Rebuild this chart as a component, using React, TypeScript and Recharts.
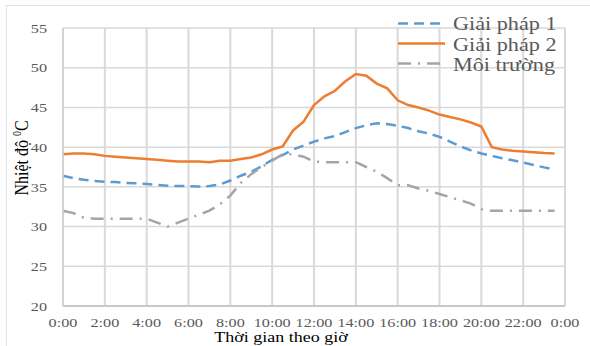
import React from "react";
import { LineChart, Line, XAxis, YAxis, CartesianGrid, Legend, Label } from "recharts";

const hours = [
  0, 0.5, 1, 1.5, 2, 2.5, 3, 3.5, 4, 4.5, 5, 5.5, 6, 6.5, 7, 7.5, 8, 8.5, 9, 9.5, 10, 10.5, 11, 11.5,
  12, 12.5, 13, 13.5, 14, 14.5, 15, 15.5, 16, 16.5, 17, 17.5, 18, 18.5, 19, 19.5, 20, 20.5, 21, 21.5,
  22, 22.5, 23, 23.5,
];

const giaiPhap1 = [
  36.4, 36.1, 35.9, 35.75, 35.65, 35.6, 35.5, 35.45, 35.35, 35.25, 35.15, 35.1, 35.1, 35.05, 35.1, 35.3,
  35.8, 36.4, 36.9, 37.6, 38.4, 39.0, 39.7, 40.2, 40.7, 41.1, 41.4, 41.9, 42.4, 42.75, 43.0, 42.9,
  42.7, 42.4, 42.0, 41.7, 41.3, 40.7, 40.1, 39.6, 39.2, 38.9, 38.6, 38.35, 38.05, 37.75, 37.45, 37.2,
];

const giaiPhap2 = [
  39.1, 39.2, 39.2, 39.1, 38.9, 38.8, 38.7, 38.6, 38.5, 38.4, 38.3, 38.2, 38.2, 38.2, 38.1, 38.3,
  38.3, 38.5, 38.7, 39.1, 39.7, 40.1, 42.1, 43.2, 45.3, 46.4, 47.1, 48.3, 49.2, 49.0, 48.0, 47.4,
  45.9, 45.3, 45.0, 44.6, 44.1, 43.8, 43.5, 43.1, 42.6, 40.0, 39.7, 39.55, 39.45, 39.35, 39.25, 39.2,
];

const moiTruong = [
  32.0, 31.7, 31.1, 31.0, 31.0, 31.0, 31.0, 31.0, 31.0, 30.5, 30.0, 30.5, 31.0, 31.5, 32.0, 32.8,
  33.9, 35.5, 36.6, 37.5, 38.3, 39.1, 39.1, 38.8, 38.2, 38.1, 38.1, 38.1, 38.1, 37.5, 36.9, 36.1,
  35.2, 35.2, 34.8, 34.5, 34.1, 33.7, 33.3, 32.9, 32.2, 32.0, 32.0, 32.0, 32.0, 32.0, 32.0, 32.0,
];

const xTicks = [0, 2, 4, 6, 8, 10, 12, 14, 16, 18, 20, 22, 24];
const yTicks = [20, 25, 30, 35, 40, 45, 50, 55];

const seriesNames = ["Giải pháp 1", "Giải pháp 2", "Môi trường"];
const xTitle = "Thời gian theo giờ";
const yTitleMain = "Nhiệt độ ";
const yTitleSup = "0";
const yTitleUnit = "C";

const data = hours.map((h, i) => ({
  h,
  g1: giaiPhap1[i],
  g2: giaiPhap2[i],
  env: moiTruong[i],
}));

const FONT = "'Liberation Serif', 'Times New Roman', serif";
const SX = 1.2;

const seriesStyles = [
  { key: "g1", name: seriesNames[0], color: "#5B9BD5", dash: "10 6", width: 2.5 },
  { key: "g2", name: seriesNames[1], color: "#ED7D31", dash: undefined as string | undefined, width: 2.5 },
  { key: "env", name: seriesNames[2], color: "#A5A5A5", dash: "13 7 2 7", width: 2.5 },
];

const fmtHour = (h: number) => `${h % 24}:00`;

const XTick = (props: any) => {
  const { x, payload } = props;
  return (
    <g transform={`translate(${x},327) scale(${SX},1)`}>
      <text textAnchor="middle" fontFamily={FONT} fontSize={13.5} fill="#595959">
        {fmtHour(payload.value)}
      </text>
    </g>
  );
};

const YTick = (props: any) => {
  const { y, payload } = props;
  return (
    <g transform={`translate(47,${y}) scale(${SX},1)`}>
      <text textAnchor="end" dy="0.35em" fontFamily={FONT} fontSize={13.5} fill="#595959">
        {payload.value}
      </text>
    </g>
  );
};

const XTitle = () => (
  <g transform={`translate(281,342) scale(${SX},1)`}>
    <text textAnchor="middle" fontFamily={FONT} fontSize={15} fill="#000000">
      {xTitle}
    </text>
  </g>
);

const YTitle = () => (
  <g transform={`translate(28,158) rotate(-90) scale(1,${SX})`}>
    <text textAnchor="middle" fontFamily={FONT} fontSize={16} fill="#000000">
      {yTitleMain}
      <tspan dy={-6} fontSize={10}>
        {yTitleSup}
      </tspan>
      <tspan dy={6}>{yTitleUnit}</tspan>
    </text>
  </g>
);

const LegendContent = () => (
  <svg width={190} height={72} style={{ display: "block" }}>
    {seriesStyles.map((s, i) => (
      <g key={s.key}>
        <line
          x1={0}
          x2={47}
          y1={13.5 + i * 20}
          y2={13.5 + i * 20}
          stroke={s.color}
          strokeWidth={2.5}
          strokeDasharray={s.dash}
        />
        <g transform={`translate(55,${20 + i * 20.5}) scale(${SX},1)`}>
          <text fontFamily={FONT} fontSize={18.5} fill="#595959">
            {s.name}
          </text>
        </g>
      </g>
    ))}
  </svg>
);

export default function App() {
  return (
    <div style={{ position: "absolute", left: 0, top: 0, width: 590, height: 346, background: "#ffffff", overflow: "hidden" }}>
      <div
        style={{
          position: "absolute",
          left: 6,
          top: 5,
          width: 600,
          height: 360,
          borderLeft: "1.5px solid #E3E3E3",
          borderTop: "1.5px solid #E3E3E3",
        }}
      />
      <div style={{ position: "absolute", left: 0, top: 0 }}>
        <LineChart width={590} height={346} data={data} margin={{ top: 28, right: 25, bottom: 0, left: 13 }}>
          <CartesianGrid horizontal={false} vertical={true} stroke="#D9D9D9" strokeWidth={2} />
          <CartesianGrid horizontal={true} vertical={false} stroke="#D9D9D9" strokeWidth={1.5} />
          <XAxis
            dataKey="h"
            type="number"
            domain={[0, 24]}
            ticks={xTicks}
            tick={<XTick />}
            tickLine={false}
            axisLine={{ stroke: "#BFBFBF", strokeWidth: 1.5 }}
            height={40}
            interval={0}
          >
            <Label content={<XTitle />} />
          </XAxis>
          <YAxis
            type="number"
            domain={[20, 55]}
            ticks={yTicks}
            tick={<YTick />}
            tickLine={false}
            axisLine={{ stroke: "#D0D0D0", strokeWidth: 1.5 }}
            width={50}
            interval={0}
          >
            <Label content={<YTitle />} />
          </YAxis>
          <Legend
            layout="vertical"
            align="center"
            verticalAlign="middle"
            content={<LegendContent />}
            wrapperStyle={{ top: 10, left: 398, width: 190, height: 72 }}
          />
          {seriesStyles.map((s) => (
            <Line
              key={s.key}
              type="linear"
              dataKey={s.key}
              name={s.name}
              stroke={s.color}
              strokeWidth={s.width}
              strokeDasharray={s.dash}
              dot={false}
              activeDot={false}
              isAnimationActive={false}
            />
          ))}
        </LineChart>
      </div>
    </div>
  );
}
